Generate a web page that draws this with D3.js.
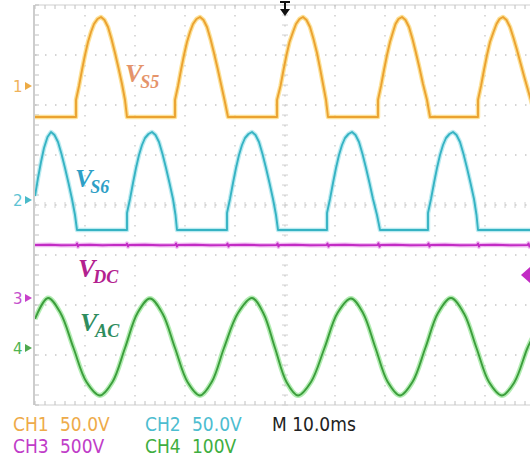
<!DOCTYPE html>
<html><head><meta charset="utf-8">
<script src="https://cdn.jsdelivr.net/npm/d3@7"></script>
<style>html,body{margin:0;padding:0;background:#fff;}svg{display:block;}</style>
</head><body>
<svg id="c" width="530" height="462"></svg>
<script>
// ---- data (time in ms, value in volts) ----
const vs5 = [[0,-31],
[8.2,-31],[8.2,-14],[8.8,0],[9.4,16],[10.0,31],[10.6,44],[11.2,54],[11.8,62],[12.5,67],[13.2,69],[13.9,66],[14.6,59],[15.3,47],[16.0,33],[16.7,18],[17.4,2],[18.0,-14],[18.4,-31],
[28.0,-31],[28.0,-14],[28.6,0],[29.2,16],[29.8,31],[30.4,44],[31.0,54],[31.6,62],[32.3,67],[33.0,69],[33.7,66],[34.4,59],[35.1,47],[35.8,33],[36.5,18],[37.2,2],[37.9,-14],[38.6,-31],
[48.4,-31],[48.4,-14],[49.1,0],[49.7,16],[50.3,31],[50.9,44],[51.6,54],[52.2,62],[52.9,67],[53.6,69],[54.3,66],[55.0,59],[55.7,47],[56.4,33],[57.0,18],[57.6,2],[58.2,-14],[58.6,-31],
[68.6,-31],[68.6,-14],[69.2,0],[69.8,16],[70.4,31],[71.0,44],[71.6,54],[72.1,62],[72.7,67],[73.4,69],[74.1,66],[74.8,59],[75.5,47],[76.2,33],[76.9,18],[77.6,2],[78.4,-14],[79.0,-31],
[88.6,-31],[88.6,-14],[89.2,0],[89.8,16],[90.4,31],[91.0,44],[91.7,54],[92.3,62],[92.9,67],[93.6,69],[94.3,66],[95.0,59],[95.7,48],[96.4,36],[97.1,23],[97.8,10],[98.6,-4],[99.4,-18],[100,-27]];

const vs6 = [[0,4],[0.6,22],[1.2,38],[1.8,52],[2.5,63],[3.2,68],[3.9,65],[4.6,58],[5.3,46],[6.0,32],[6.7,17],[7.4,1],[8.0,-15],[8.4,-30],
[18.4,-30],[18.4,-13],[19.0,1],[19.6,17],[20.2,32],[20.8,45],[21.4,55],[22.0,62],[22.7,66],[23.4,68],[24.1,65],[24.8,58],[25.5,46],[26.2,32],[26.9,17],[27.6,1],[28.1,-15],[28.4,-30],
[38.4,-30],[38.4,-13],[39.0,1],[39.6,17],[40.2,32],[40.8,45],[41.4,55],[42.0,62],[42.7,66],[43.4,68],[44.1,65],[44.8,58],[45.5,46],[46.2,32],[46.9,17],[47.6,1],[48.2,-15],[48.6,-30],
[58.4,-30],[58.4,-13],[59.0,1],[59.6,17],[60.2,32],[60.8,45],[61.4,55],[62.0,62],[62.7,66],[63.4,68],[64.1,65],[64.8,58],[65.5,46],[66.2,32],[66.9,17],[67.6,1],[68.4,-15],[69.0,-30],
[78.6,-30],[78.6,-13],[79.2,1],[79.8,17],[80.4,32],[81.0,45],[81.6,55],[82.2,62],[82.9,66],[83.6,68],[84.3,65],[85.0,58],[85.7,46],[86.4,32],[87.1,17],[87.8,1],[88.3,-15],[88.6,-30],
[100,-30]];

const vdc = [[0,530],[3.0,532],[5.2,528],[8.2,530],[8.4,546],[8.6,514],[8.8,530],[11.0,533],[13.5,527],[16.0,531],[18.2,530],[18.4,545],[18.6,515],[18.8,530],
[22.0,532],[25.0,528],[28.0,530],[28.2,546],[28.4,514],[28.6,530],[32.0,532],[35.0,528],[38.3,530],[38.5,545],[38.7,515],[38.9,530],
[42.0,533],[45.0,528],[48.3,530],[48.5,546],[48.7,514],[48.9,530],[52.0,532],[55.0,528],[58.3,530],[58.5,545],[58.7,515],[58.9,530],
[62.0,532],[65.0,528],[68.5,530],[68.7,547],[68.9,513],[69.1,530],[72.0,532],[75.0,528],[78.5,530],[78.7,546],[78.9,514],[79.1,530],
[82.0,533],[85.0,528],[88.4,530],[88.6,546],[88.8,514],[89.0,530],[92.0,532],[95.0,528],[98.5,530],[98.7,546],[98.9,514],[99.1,530],[100,530]];

const vac = [[0,58],[2.6,100],[5.1,70],[7.7,0],[10.3,-68],[13.0,-95],[15.5,-68],[18.0,0],[20.5,70],[23.0,99],[25.5,69],[28.0,0],[30.5,-68],[33.0,-95],[35.4,-67],[37.8,0],
[40.6,70],[43.4,100],[45.7,69],[48.0,0],[50.3,-68],[52.6,-95],[55.2,-68],[57.9,0],[60.5,70],[63.2,99],[65.6,70],[68.1,0],[70.5,-67],[73.0,-95],[75.5,-68],[78.1,1],
[80.6,70],[83.2,100],[85.8,69],[88.3,0],[90.8,-68],[93.4,-95],[95.9,-68],[98.5,0],[100,30]];

// channel settings: name, marker position (divisions from centre), volts per division
const chNames = ["1","2","3","4"];
const chPos = [2.38, 0.1, -1.86, -2.86];
const chVdiv = [50, 50, 500, 100];
const chColors = ["#eba231","#36b3c3","#c22cc4","#3c9e3c"];
const chGlow = ["#fbd774","#a6e4ec","#eba6ee","#98e698"];
const chText = ["#eeab4a","#4dbdd0","#c03cc8","#3fae3f"];

const timeTicks = d3.range(0, 101, 10);
const divTicks = d3.range(-4, 5, 1);

const scaleLabels = [["CH1","50.0V"],["CH2","50.0V"],["CH3","500V"],["CH4","100V"]];
const timebase = "M 10.0ms";

// ---- scales ----
const svg = d3.select("#c");
const x = d3.scaleLinear().domain([0, 100]).range([35, 535]);
const yd = d3.scaleLinear().domain([-4, 4]).range([405, 5]);
const yCh = i => v => yd(chPos[i] + v / chVdiv[i]);

// ---- graticule ----
const g = svg.append("g");
const gridCol = "#c6c6c6";
g.selectAll(".vg").data(timeTicks.slice(1)).join("line")
  .attr("x1", d => x(d)).attr("x2", d => x(d)).attr("y1", yd(4)).attr("y2", yd(-4))
  .attr("stroke", gridCol).attr("stroke-width", 1.3).attr("stroke-dasharray", "1.5,8.5");
g.selectAll(".hg").data(divTicks.slice(1, -1)).join("line")
  .attr("x1", x(0)).attr("x2", 530).attr("y1", d => yd(d)).attr("y2", d => yd(d))
  .attr("stroke", gridCol).attr("stroke-width", 1.3).attr("stroke-dasharray", "1.5,8.5");
g.append("line").attr("x1", x(0) - 1).attr("x2", x(0) - 1).attr("y1", yd(4)).attr("y2", yd(-4)).attr("stroke", "#bcbcbc").attr("stroke-width", 1.5);
g.append("line").attr("x1", x(0)).attr("x2", 530).attr("y1", yd(4)).attr("y2", yd(4)).attr("stroke", "#d0d0d0").attr("stroke-width", 1.2);
g.append("line").attr("x1", x(0)).attr("x2", 530).attr("y1", yd(-4)).attr("y2", yd(-4)).attr("stroke", "#d0d0d0").attr("stroke-width", 1.2);
const minorT = d3.range(0, 100.01, 2);
const minorD = d3.range(-4, 4.01, 0.2);
g.selectAll(".tt").data(minorT).join("line")
  .attr("x1", d => x(d)).attr("x2", d => x(d)).attr("y1", yd(4)).attr("y2", yd(4) + 4)
  .attr("stroke", "#c0c0c0");
g.selectAll(".bt").data(minorT).join("line")
  .attr("x1", d => x(d)).attr("x2", d => x(d)).attr("y1", yd(-4)).attr("y2", yd(-4) - 4)
  .attr("stroke", "#c0c0c0");
g.selectAll(".lt").data(minorD).join("line")
  .attr("x1", x(0)).attr("x2", x(0) + 4).attr("y1", d => yd(d)).attr("y2", d => yd(d))
  .attr("stroke", "#c0c0c0");
g.selectAll(".ct").data(minorD).join("line")
  .attr("x1", x(50) - 3).attr("x2", x(50) + 3).attr("y1", d => yd(d)).attr("y2", d => yd(d))
  .attr("stroke", "#d2d2d2");
g.selectAll(".ch").data(minorT).join("line")
  .attr("x1", d => x(d)).attr("x2", d => x(d)).attr("y1", yd(0) - 3).attr("y2", yd(0) + 3)
  .attr("stroke", "#d2d2d2");

// ---- traces ----
svg.append("clipPath").attr("id", "clip").append("rect")
  .attr("x", x(0)).attr("y", yd(4)).attr("width", 530 - x(0)).attr("height", yd(-4) - yd(4));
const tr = svg.append("g").attr("clip-path", "url(#clip)");
const series = [vs5, vs6, vdc, vac];
const curves = [d3.curveLinear, d3.curveLinear, d3.curveLinear, d3.curveCatmullRom.alpha(0.5)];
const drawOrder = [2, 0, 1, 3];
drawOrder.forEach(i => {
  const line = d3.line().curve(curves[i]).x(d => x(d[0])).y(d => yCh(i)(d[1]));
  tr.append("path").attr("d", line(series[i])).attr("fill", "none")
    .attr("stroke", chGlow[i]).attr("stroke-width", i === 3 ? 5 : 4.5).attr("stroke-opacity", 0.75)
    .attr("stroke-linejoin", "round");
  tr.append("path").attr("d", line(series[i])).attr("fill", "none")
    .attr("stroke", chColors[i]).attr("stroke-width", 1.9).attr("stroke-linejoin", "round");
});

// ---- channel markers ----
chNames.forEach((n, i) => {
  const yy = yd(chPos[i]);
  svg.append("text").attr("x", 13).attr("y", yy + 5.5).text(n)
    .attr("font-family", "DejaVu Sans, sans-serif").attr("font-size", 15)
    .attr("fill", chText[i]).attr("opacity", 0.9);
  svg.append("path").attr("d", `M${25},${yy - 4}L${32},${yy}L${25},${yy + 4}Z`)
    .attr("fill", chColors[i]).attr("opacity", 0.9);
});
svg.append("path").attr("d", `M${x(50) - 5},2 L${x(50) + 5},2 M${x(50)},2 L${x(50)},10`)
  .attr("stroke", "#111").attr("stroke-width", 2);
svg.append("path").attr("d", `M${x(50) - 5},9 L${x(50) + 5},9 L${x(50)},16Z`).attr("fill", "#111");
svg.append("path").attr("d", `M530,267 L530,283 L521,275Z`).attr("fill", chColors[2]);

// ---- trace labels ----
const labels = [
  {v: "V", s: "S5", x: 125, y: 82, c: "#e5946a"},
  {v: "V", s: "S6", x: 75, y: 187, c: "#2e9fc6"},
  {v: "V", s: "DC", x: 78, y: 277, c: "#b3218f"},
  {v: "V", s: "AC", x: 80, y: 331, c: "#2f8d5e"}
];
labels.forEach(l => {
  const t = svg.append("text").attr("x", l.x).attr("y", l.y)
    .attr("font-family", "Liberation Serif, Times New Roman, serif")
    .attr("font-style", "italic").attr("font-weight", "bold").attr("fill", l.c);
  t.append("tspan").attr("font-size", 26).text(l.v);
  t.append("tspan").attr("font-size", 18).attr("dx", -2).attr("dy", 6).text(l.s);
});

// ---- bottom readout ----
const rf = "DejaVu Sans Condensed, DejaVu Sans, sans-serif";
const rx = [[13, 60], [145, 192], [13, 60], [145, 192]];
const ry = [431, 431, 453, 453];
scaleLabels.forEach((p, i) => {
  svg.append("text").attr("x", rx[i][0]).attr("y", ry[i]).text(p[0])
    .attr("font-family", rf).attr("font-size", 19).attr("fill", chText[i]);
  svg.append("text").attr("x", rx[i][1]).attr("y", ry[i]).text(p[1])
    .attr("font-family", rf).attr("font-size", 19).attr("fill", chText[i]);
});
svg.append("text").attr("x", 272).attr("y", 431).text(timebase)
  .attr("font-family", rf).attr("font-size", 19).attr("fill", "#222");
</script>
</body></html>
